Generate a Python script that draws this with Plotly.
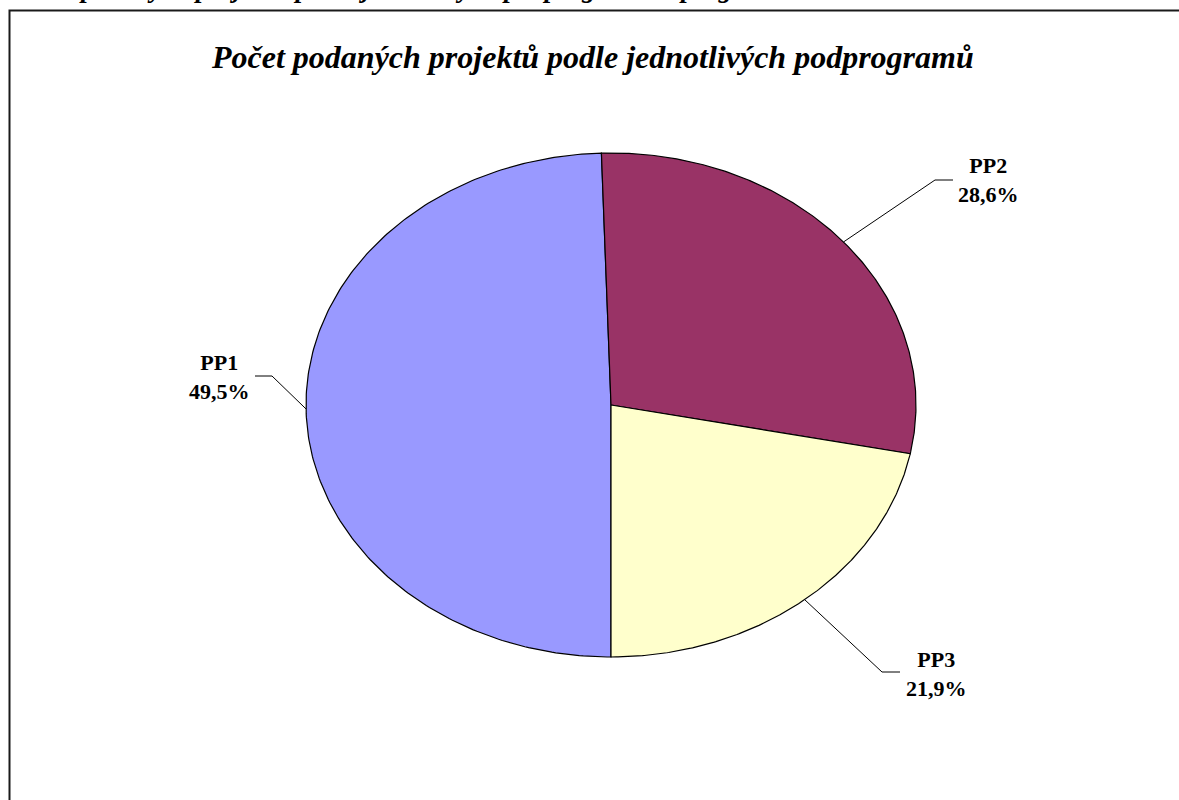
import numpy as np
import plotly.graph_objects as go

# ---- data ----
labels = ["PP1", "PP2", "PP3"]
shares = [49.5, 28.6, 21.9]
colors = ["#9999FF", "#993366", "#FFFFCC"]
title_text = "Počet podaných projektů podle jednotlivých podprogramů"
caption_text = "Počet podaných projektů podle jednotlivých podprogramů v programu"

# ---- layout geometry (pixels) ----
W, H = 1179, 800
CX, CY, RX, RY = 611, 405, 305, 252   # elliptical pie frame
START_ANGLE = 180.0                   # first slice starts at 6 o'clock, clockwise

X_RANGE = [(0 - CX) / RX, (W - CX) / RX]
Y_RANGE = [(CY - H) / RY, CY / RY]


def px2x(px):
    return (px - CX) / RX


def py2y(py):
    return (CY - py) / RY


def xp(px):
    return px / W


def yp(py):
    return 1 - py / H


label_layout = {
    "PP1": dict(elbow=(272, 376), end=(255, 376), text=(219, 377)),
    "PP2": dict(elbow=(935, 180), end=(953, 180), text=(988, 180)),
    "PP3": dict(elbow=(882, 672), end=(900, 672), text=(936, 674)),
}

fig = go.Figure()
total = sum(shares)
angle = START_ANGLE
annotations = []
for lab, v, c in zip(labels, shares, colors):
    sweep = 360.0 * v / total
    th = np.radians(np.linspace(angle, angle + sweep, 240))
    xs = np.concatenate([[0.0], np.sin(th), [0.0]])
    ys = np.concatenate([[0.0], np.cos(th), [0.0]])
    fig.add_trace(go.Scatter(
        x=xs, y=ys, mode="lines", fill="toself", fillcolor=c,
        line=dict(color="black", width=1.2), hoverinfo="skip",
        showlegend=False, name=lab))
    mid = np.radians(angle + sweep / 2)
    lay = label_layout[lab]
    fig.add_trace(go.Scatter(
        x=[np.sin(mid), px2x(lay["elbow"][0]), px2x(lay["end"][0])],
        y=[np.cos(mid), py2y(lay["elbow"][1]), py2y(lay["end"][1])],
        mode="lines", line=dict(color="black", width=1),
        hoverinfo="skip", showlegend=False))
    pct = f"{v:.1f}".replace(".", ",") + "%"
    annotations.append(dict(
        text=f"{lab}<br>{pct}", x=xp(lay["text"][0]), y=yp(lay["text"][1]),
        xref="paper", yref="paper", xanchor="center", yanchor="middle",
        align="center", showarrow=False,
        font=dict(family="Liberation Serif", size=22, color="black", weight="bold")))
    angle += sweep

annotations.append(dict(
    text=title_text, x=xp(592), y=yp(57), xref="paper", yref="paper",
    xanchor="center", yanchor="middle", showarrow=False,
    font=dict(family="Liberation Serif", size=32, color="black",
              weight="bold", style="italic")))
annotations.append(dict(
    text=caption_text, x=xp(10), y=yp(-12), xref="paper", yref="paper",
    xanchor="left", yanchor="middle", showarrow=False,
    font=dict(family="Liberation Serif", size=27, color="black",
              weight="bold", style="italic")))

fig.update_layout(
    width=W, height=H, autosize=False,
    margin=dict(l=0, r=0, t=0, b=0, pad=0),
    paper_bgcolor="white", plot_bgcolor="white",
    xaxis=dict(range=X_RANGE, visible=False, fixedrange=True),
    yaxis=dict(range=Y_RANGE, visible=False, fixedrange=True),
    annotations=annotations,
    shapes=[dict(type="rect", xref="paper", yref="paper",
                 x0=xp(9.5), x1=1.05, y0=-0.05, y1=yp(10.5),
                 line=dict(color="#1a1a1a", width=2), layer="above")],
    showlegend=False,
)

fig.write_html("out.html", config={"displayModeBar": False},
               post_script="document.body.style.margin='0';document.body.style.overflow='hidden';")
